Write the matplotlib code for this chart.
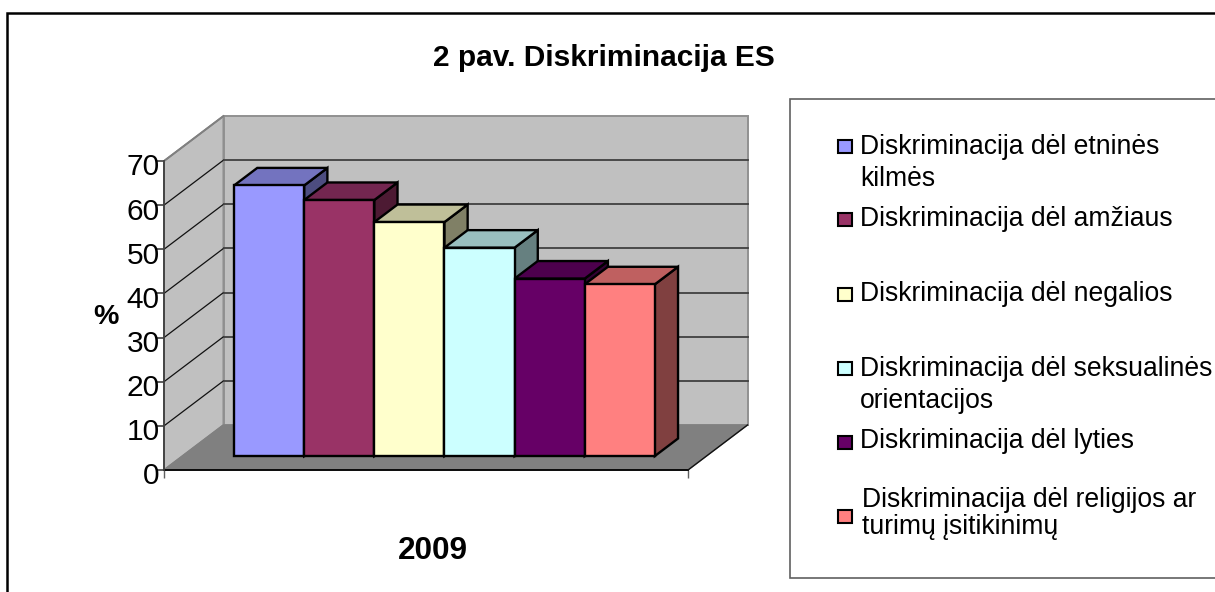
import matplotlib
matplotlib.use('Agg')
import matplotlib.pyplot as plt
from matplotlib.patches import Polygon, Rectangle
from matplotlib.transforms import ScaledTranslation

plt.rcParams['font.family'] = ['Liberation Sans', 'DejaVu Sans']

# Data -----------------------------------------------------------------------
categories = ['Diskriminacija dėl etninės\nkilmės',
              'Diskriminacija dėl amžiaus',
              'Diskriminacija dėl negalios',
              'Diskriminacija dėl seksualinės\norientacijos',
              'Diskriminacija dėl lyties',
              'Diskriminacija dėl religijos ar\nturimų įsitikinimų']
values = [61.3, 58, 53, 47.2, 40.2, 38.9]
colors = ['#9999FF', '#993366', '#FFFFCC', '#CCFFFF', '#660066', '#FF8080']
top_colors = ['#7373BF', '#732650', '#BFBF99', '#99BFBF', '#4D004D', '#BF6060']
side_colors = ['#4D4D80', '#4D1A33', '#808066', '#668080', '#330033', '#804040']
yticks = [0, 10, 20, 30, 40, 50, 60, 70]
year = '2009'

W, H = 1215, 592
fig = plt.figure(figsize=(W / 100, H / 100), dpi=100)

# overlay in image pixels for frame and legend
pg = fig.add_axes([0, 0, 1, 1])
pg.set_xlim(0, W)
pg.set_ylim(H, 0)
pg.axis('off')

# front plane of the 3D box
left, right, base, top = 164, 688, 470, 161
ax = fig.add_axes([left / W, (H - base) / H, (right - left) / W, (base - top) / H])
ax.patch.set_alpha(0)
ax.set_xlim(0, 1)
ax.set_ylim(0, 70)

# oblique projection: depth 0 is the front plane, depth 1 the back wall
DX = 59.5 / (right - left)
DY = 45 / ((base - top) / 70)


def proj(x, y, d):
    return (x + d * DX, y + d * DY)


def face(points, color, z, edge='black', lw=1.7):
    ax.add_patch(Polygon([proj(*p) for p in points], closed=True, facecolor=color,
                         edgecolor=edge, linewidth=lw, zorder=z, clip_on=False,
                         joinstyle='miter'))


# walls and floor
face([(0, 0, 0), (0, 70, 0), (0, 70, 1), (0, 0, 1)], '#C0C0C0', 1, '#808080', 1.3)
face([(0, 0, 1), (0, 70, 1), (1, 70, 1), (1, 0, 1)], '#C0C0C0', 1, '#909090', 1.4)
face([(0, 0, 0), (1, 0, 0), (1, 0, 1), (0, 0, 1)], '#808080', 2, '#808080', 1)

# gridlines on side wall and back wall
for v in yticks[1:-1] + [70]:
    a = proj(0, v, 0)
    b = proj(0, v, 1)
    c = proj(1, v, 1)
    if v < 70:
        ax.plot([a[0], b[0]], [a[1], b[1]], color='#111111', lw=0.9, zorder=3, clip_on=False)
        ax.plot([b[0], c[0]], [b[1], c[1]], color='#404040', lw=1.3, zorder=3, clip_on=False)
    else:
        ax.plot([a[0], b[0]], [a[1], b[1]], color='#808080', lw=1.3, zorder=3, clip_on=False)

# floor front and right edges
ax.plot([0, 1], [0, 0], color='black', lw=1.3, zorder=4, clip_on=False)
a = proj(1, 0, 0)
b = proj(1, 0, 1)
ax.plot([a[0], b[0]], [a[1], b[1]], color='#111111', lw=1, zorder=4, clip_on=False)

# bars
gap = 0.0985
bw = (1 - 2 * gap) / len(values)
d0, d1 = 0.31, 0.70
for i, v in enumerate(values):
    x0 = gap + i * bw
    x1 = x0 + bw
    z = 10 + i
    face([(x1, 0, d0), (x1, v, d0), (x1, v, d1), (x1, 0, d1)], side_colors[i], z)
    face([(x0, v, d0), (x1, v, d0), (x1, v, d1), (x0, v, d1)], top_colors[i], z)
    face([(x0, 0, d0), (x1, 0, d0), (x1, v, d0), (x0, v, d0)], colors[i], z)

# axes
for s in ['top', 'right', 'bottom']:
    ax.spines[s].set_visible(False)
ax.spines['left'].set_color('#404040')
ax.spines['left'].set_linewidth(1.3)
ax.spines['left'].set_zorder(5)
ax.set_yticks(yticks)
ax.tick_params(axis='y', length=6, width=1.2, color='#404040', labelsize=21.5, pad=-3)
ax.set_xticks([0, 1])
ax.set_xticklabels(['', ''])
ax.tick_params(axis='x', length=6, width=1, color='#606060')
# tick labels sit a little below their ticks in the picture
shift = ScaledTranslation(0, -2.5 / 72, fig.dpi_scale_trans)
for lab in ax.get_yticklabels():
    lab.set_transform(lab.get_transform() + shift)

ax.set_xlabel(year, fontsize=22.7, fontweight='bold')
ax.xaxis.set_label_coords((433 - left) / (right - left), -(551 - base) / (base - top), ax.transAxes)
ax.xaxis.label.set_verticalalignment('center')
ax.set_ylabel('%', fontsize=20.5, fontweight='bold', rotation=0, ha='center', va='center')
ax.yaxis.set_label_coords((106 - left) / (right - left), (base - 317) / (base - top), ax.transAxes)

fig.suptitle('2 pav. Diskriminacija ES', x=604 / W, y=1 - 58 / H, fontsize=21.5,
             fontweight='bold', va='center', ha='center')

# outer frame, only top and left show in the picture
pg.plot([7, 7, W], [H, 13, 13], color='black', lw=1.8, solid_joinstyle='miter', clip_on=False)

# legend box runs off the right side
pg.plot([W, 790, 790, W], [98.5, 98.5, 578, 578], color='#606060', lw=1.2, solid_joinstyle='miter')

marker_y = [146.5, 219.5, 294, 368, 442, 516]
text_y = [163, 219, 294, 384.5, 441, 513.5]
text_x = [860, 860, 860, 860, 860, 862]
spacing = [1.33, 1, 1, 1.3, 1, 1.05]
for i, lab in enumerate(categories):
    pg.add_patch(Rectangle((838, marker_y[i] - 6.5), 13.5, 13, facecolor=colors[i],
                           edgecolor='black', linewidth=1.5))
    pg.text(text_x[i], text_y[i], lab, fontsize=19.1, ha='left', va='center',
            linespacing=spacing[i])

plt.savefig('out.png', dpi=100)
